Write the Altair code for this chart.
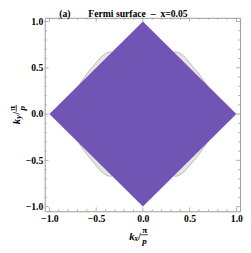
import altair as alt
import pandas as pd

# ---- data -------------------------------------------------------------
# filled region |kx| + |ky| <= 1 (purple diamond)
dia_kx = [-1.0, 0.0, 1.0]
dia_top = [0.0, 1.0, 0.0]
dia_bot = [0.0, -1.0, 0.0]

# Fermi-surface crescent outside the diamond, first quadrant
fs_kx = [0.33, 0.36, 0.40, 0.45, 0.50, 0.55, 0.60, 0.65, 0.68]
fs_ky = [0.67, 0.672, 0.655, 0.615, 0.555, 0.495, 0.435, 0.365, 0.32]

major_ticks = [-1.0, -0.5, 0.0, 0.5, 1.0]
minor_ticks = [-0.9, -0.8, -0.7, -0.6, -0.4, -0.3, -0.2, -0.1,
               0.1, 0.2, 0.3, 0.4, 0.6, 0.7, 0.8, 0.9]

title_tag = "(a)"
title_text = "Fermi surface\u00a0\u00a0\u2013\u00a0\u00a0x=0.05"

PURPLE = "#7055b5"
CRESCENT = "#e6e6e0"
EDGE = "#a0a0a0"
FRAME = "#999999"
FONT = "Liberation Serif"

W, H = 202, 200
DOM = [-1.05, 1.04]

# ---- tables -----------------------------------------------------------
dia = pd.DataFrame({"kx": dia_kx, "top": dia_top, "bot": dia_bot})

rows = []
for sx, sy, g in [(1, 1, "q1"), (-1, 1, "q2"), (-1, -1, "q3"), (1, -1, "q4")]:
    for k, o in zip(fs_kx, fs_ky):
        rows.append({"kx": sx * k, "outer": sy * o, "inner": sy * (1 - k), "grp": g})
cres = pd.DataFrame(rows)

axis_kw = dict(values=major_ticks, format=".1f", ticks=False, domain=False,
               grid=False, labelFont=FONT, labelFontWeight="bold",
               labelFontSize=10, labelColor="black", labelFlush=False,
               labelOverlap=False, title=None)
xs = alt.Scale(domain=DOM, nice=False, zero=False)
ys = alt.Scale(domain=DOM, nice=False, zero=False)
xax = alt.Axis(labelPadding=3, **axis_kw)
yax = alt.Axis(labelPadding=2, **axis_kw)

crescent = alt.Chart(cres).mark_area(
    color=CRESCENT, opacity=1, line={"color": EDGE, "strokeWidth": 0.7}
).encode(
    x=alt.X("kx:Q", scale=xs, axis=xax),
    y=alt.Y("outer:Q", scale=ys, axis=yax),
    y2="inner:Q",
    detail="grp:N",
)

diamond = alt.Chart(dia).mark_area(color=PURPLE, opacity=1).encode(
    x=alt.X("kx:Q", scale=xs, axis=xax),
    y=alt.Y("top:Q", scale=ys, axis=yax),
    y2="bot:Q",
)


def tick_layers(vals, L):
    d = alt.Chart(pd.DataFrame({"t": vals}))
    st = dict(color=FRAME, strokeWidth=0.8)
    return [
        d.mark_rule(**st).encode(x=alt.X("t:Q", scale=xs, axis=xax),
                                 y=alt.value(H), y2=alt.value(H - L)),
        d.mark_rule(**st).encode(x=alt.X("t:Q", scale=xs, axis=xax),
                                 y=alt.value(0), y2=alt.value(L)),
        d.mark_rule(**st).encode(y=alt.Y("t:Q", scale=ys, axis=yax),
                                 x=alt.value(0), x2=alt.value(L)),
        d.mark_rule(**st).encode(y=alt.Y("t:Q", scale=ys, axis=yax),
                                 x=alt.value(W), x2=alt.value(W - L)),
    ]


one = pd.DataFrame({"a": [0]})


def txt(s, x, y, size=10, style="normal", angle=0, align="center", weight="bold"):
    return alt.Chart(one).mark_text(
        text=s, font=FONT, fontSize=size, fontStyle=style, fontWeight=weight,
        angle=angle, align=align, baseline="alphabetic", color="black",
    ).encode(x=alt.value(x), y=alt.value(y))


def bar(x1, x2, y1, y2):
    return alt.Chart(one).mark_rule(color="black", strokeWidth=0.8).encode(
        x=alt.value(x1), x2=alt.value(x2), y=alt.value(y1), y2=alt.value(y2))


YT = 1.5  # shift of the rotated y title to keep it inside the page
texts = [
    txt(title_tag, 15, -0.5, align="left"),
    txt(title_text, 45, -0.5, align="left"),
    # x-axis title  k_x / (pi / p)
    txt("k", 90, 229.3, size=11, style="italic"),
    txt("x", 94.5, 230.8, size=8, style="italic"),
    txt("/", 98, 229.5, size=11),
    txt("\u03c0", 103.3, 222.5, size=9.5),
    bar(99.7, 106.5, 224.3, 224.3),
    txt("p", 103.3, 233.5, size=9.5, style="italic"),
    # y-axis title  k_y / (pi / p), rotated
    txt("k", -27.5 + YT, 107.3, size=11, style="italic", angle=270),
    txt("y", -26.0 + YT, 102.5, size=8, style="italic", angle=270),
    txt("/", -27.0 + YT, 98.8, size=11, angle=270),
    bar(-31 + YT, -31 + YT, 90, 97),
    txt("\u03c0", -32.5 + YT, 93.5, size=9.5, angle=270),
    txt("p", -22.0 + YT, 93.5, size=9.5, style="italic", angle=270),
]

chart = alt.layer(
    crescent, diamond,
    *tick_layers(major_ticks, 4),
    *tick_layers(minor_ticks, 2),
    *texts,
).properties(
    width=W, height=H,
    autosize=alt.AutoSizeParams(type="none"),
    padding={"left": 38, "top": 6, "right": 3, "bottom": 39},
).configure_view(stroke=FRAME, strokeWidth=1)

chart.save("out.html", embed_options={"renderer": "svg", "actions": False})
